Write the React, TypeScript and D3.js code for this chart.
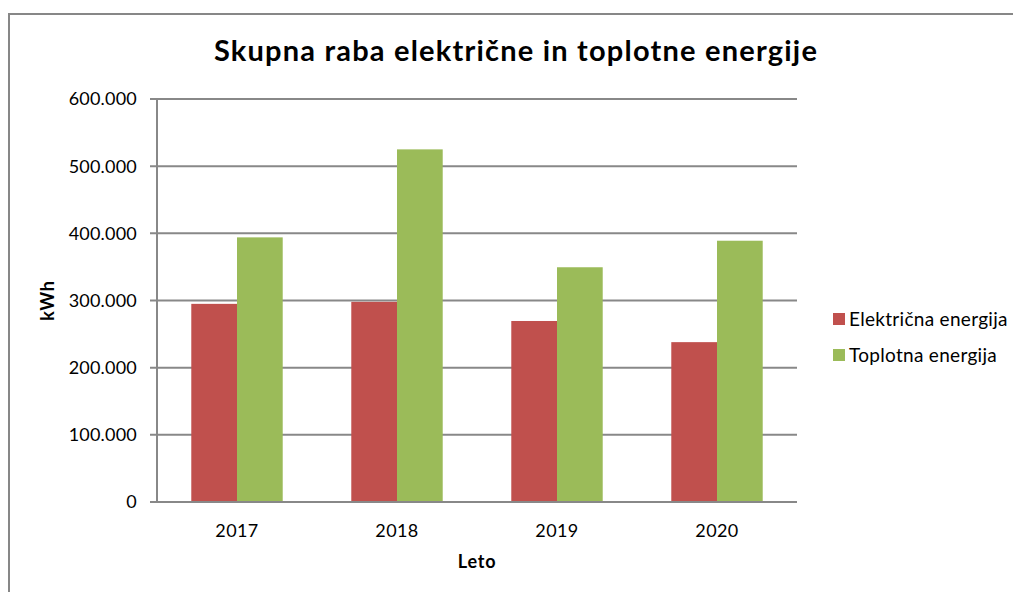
import React from "react";
import * as d3 from "d3";

const years = ["2017", "2018", "2019", "2020"];
const seriesNames = ["Električna energija", "Toplotna energija"];
const electric = [295000, 298000, 269500, 238000];
const thermal = [394000, 525000, 349500, 389000];
const yTicks = [0, 100000, 200000, 300000, 400000, 500000, 600000];
const colors = ["#C0504D", "#9BBB59"];

const FONT = "Lato, 'Open Sans', sans-serif";

export default function App() {
  const W = 1013, H = 592;
  const left = 157, right = 797, top = 99, bottom = 502;
  const x = d3.scaleBand<string>().domain(years).range([left, right]).paddingInner(0).paddingOuter(0);
  const y = d3.scaleLinear().domain([0, 600000]).range([bottom, top]);
  const bw = x.bandwidth() / 3.5;
  const sub = d3.scaleBand<number>().domain([0, 1]).range([0, bw * 2]);
  const fmt = (v: number) => (v === 0 ? "0" : d3.format(",")(v).replace(/,/g, "."));
  const series = [electric, thermal];
  return (
    <svg width={W} height={H} style={{ position: "absolute", left: 0, top: 0, background: "#fff" }}>
      <rect x={9} y={14} width={1100} height={700} fill="#fff" stroke="#878787" strokeWidth={2} />
      <text x={516} y={61} textAnchor="middle" fontFamily={FONT} fontWeight="bold" fontSize={29} letterSpacing={1.2} fill="#000">
        Skupna raba električne in toplotne energije
      </text>
      {yTicks.map((t) => (
        <g key={t}>
          <line x1={150} x2={right} y1={y(t)} y2={y(t)} stroke="#888" strokeWidth={2} />
          <text x={137} y={y(t)} dy="0.36em" textAnchor="end" fontFamily={FONT} fontSize={18} letterSpacing={0.2} fill="#000">
            {fmt(t)}
          </text>
        </g>
      ))}
      <line x1={left} x2={left} y1={top} y2={bottom} stroke="#888" strokeWidth={2} />
      {series.map((vals, si) =>
        vals.map((v, i) => (
          <rect
            key={si + "-" + i}
            x={(x(years[i]) as number) + bw * 0.75 + (sub(si) as number)}
            y={y(v)}
            width={sub.bandwidth()}
            height={bottom - y(v)}
            fill={colors[si]}
          />
        ))
      )}
      <line x1={150} x2={right} y1={bottom} y2={bottom} stroke="#888" strokeWidth={2} />
      {years.map((yr) => (
        <text key={yr} x={(x(yr) as number) + x.bandwidth() / 2} y={537} textAnchor="middle" fontFamily={FONT} fontSize={18} letterSpacing={0.4} fill="#000">
          {yr}
        </text>
      ))}
      <text x={(left + right) / 2} y={568} textAnchor="middle" fontFamily={FONT} fontWeight="bold" fontSize={18} letterSpacing={0.8} fill="#000">
        Leto
      </text>
      <text transform={`translate(54,${(top + bottom) / 2}) rotate(-90)`} textAnchor="middle" fontFamily={FONT} fontWeight="bold" fontSize={18} letterSpacing={0.8} fill="#000">
        kWh
      </text>
      {seriesNames.map((n, i) => (
        <g key={n} transform={`translate(833,${319 + i * 36})`}>
          <rect x={0} y={-6} width={12} height={12} fill={colors[i]} />
          <text x={16} y={0} dy="0.36em" fontFamily={FONT} fontSize={19} letterSpacing={0.3} fill="#000">
            {n}
          </text>
        </g>
      ))}
    </svg>
  );
}
